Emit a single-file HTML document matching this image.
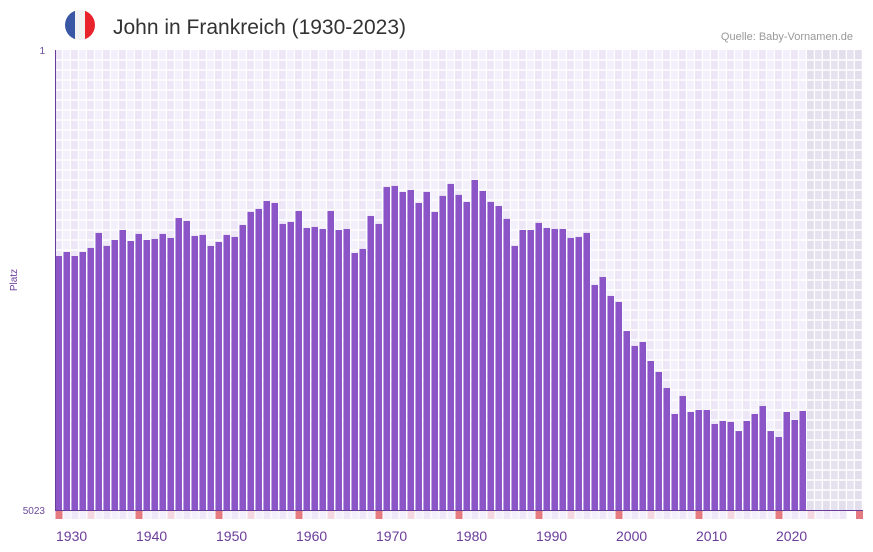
<!DOCTYPE html>
<html><head><meta charset="utf-8"><style>
body{margin:0;background:#fff;font-family:"Liberation Sans",sans-serif}
svg{display:block}
</style></head><body>
<svg id="chart" width="873" height="552" viewBox="0 0 873 552">
<defs>
<clipPath id="fc"><circle cx="80" cy="25" r="15"/></clipPath>
</defs>
<g clip-path="url(#fc)">
<rect x="65" y="10" width="10" height="30" fill="#3a57a6"/>
<rect x="75" y="10" width="10" height="30" fill="#f2f2f2"/>
<rect x="85" y="10" width="10" height="30" fill="#e8232b"/>
</g>
<text x="113" y="34" font-size="21" fill="#333">John in Frankreich (1930-2023)</text>
<text x="853" y="40" font-size="11" fill="#999" text-anchor="end">Quelle: Baby-Vornamen.de</text>
<g id="grid"></g>
<g id="bars"></g>
<g id="strip"></g>
<g id="xlabels"></g>
<line x1="55.5" y1="50" x2="55.5" y2="510" stroke="#6a3d9a" stroke-width="1"/>
<line x1="55" y1="510.5" x2="863" y2="510.5" stroke="#6a3d9a" stroke-width="1"/>
<text x="45" y="54" font-size="10" fill="#6a4a9a" text-anchor="end">1</text>
<text x="45" y="514" font-size="10" fill="#6a4a9a" text-anchor="end">5023</text>
<text transform="translate(17,280) rotate(-90)" font-size="10" fill="#6a3d9a" text-anchor="middle">Platz</text>
</svg>
<script>
const startYear = 1930;
const endYear = 2030;
const yMin = 1;
const yMax = 5023;
const ranks = [2250,2206,2250,2206,2162,1998,2140,2075,1966,2086,2009,2075,2064,2009,2053,1835,1867,2031,2020,2140,2097,2020,2042,1911,1769,1736,1649,1671,1900,1878,1758,1944,1933,1955,1758,1966,1955,2217,2173,1813,1900,1496,1485,1551,1529,1671,1551,1769,1594,1463,1583,1660,1420,1540,1660,1704,1845,2140,1966,1966,1889,1944,1955,1955,2053,2042,1998,2566,2479,2686,2752,3069,3232,3189,3396,3516,3691,3975,3778,3953,3931,3931,4084,4051,4062,4161,4051,3975,3888,4161,4226,3953,4040,3942];
const tickYears = [1930,1940,1950,1960,1970,1980,1990,2000,2010,2020];

const NS="http://www.w3.org/2000/svg";
const L=55,R=863,T=50,B=510;
const slot=(R-L)/(endYear-startYear+1);
const x=yr=>L+(yr-startYear)*slot;
const y=r=>T+(r-yMin)/(yMax-yMin)*(B-T);
function mk(tag,attrs,parent){const e=document.createElementNS(NS,tag);for(const k in attrs)e.setAttribute(k,attrs[k]);parent.appendChild(e);return e;}
const grid=document.getElementById('grid');
for(let yr=startYear;yr<=endYear;yr++){
  const future=yr>=2024;
  const c=mk('rect',{x:x(yr),y:T,width:slot,height:B-T,fill:future?(yr%2?'#e6e2ef':'#e2deec'):(yr%2?'#f3effb':'#ece6f7')},grid);
  
  
  const v=mk('line',{x1:x(yr)+slot-0.5,x2:x(yr)+slot-0.5,y1:T,y2:B,stroke:'#fff','stroke-width':1.5},grid);
  
  
}
for(let gy=T+10;gy<B;gy+=10){
  const h=mk('line',{x1:L,x2:R,y1:gy,y2:gy,stroke:'#fff','stroke-width':1.5},grid);
  
  
}
const bars=document.getElementById('bars');
ranks.forEach((r,i)=>{
  const yr=startYear+i;
  const b=mk('rect',{x:x(yr)+0.5,y:y(r),width:slot-1.5,height:B-y(r),fill:'#8b55c8'},bars);
  
  
});
const strip=document.getElementById('strip');
for(let yr=startYear;yr<=endYear-2;yr++){
  const d=yr%10;
  const col=d===0?'#e57a80':(d===4?'#f5d7e2':(yr%2?'#f4f0fb':'#ede7f7'));
  const s=mk('rect',{x:x(yr)+0.5,y:511,width:slot-1,height:8,fill:col},strip);
  
  
}
const s2=mk('rect',{x:856,y:511,width:7,height:8,fill:'#e57a80'},strip);


const xl=document.getElementById('xlabels');
tickYears.forEach(t=>{
  const tx=mk('text',{x:x(t)+1,y:541,'font-size':14,fill:'#6a3d9a'},xl);
  tx.textContent=t;
  
  
});
</script>
</body></html>
